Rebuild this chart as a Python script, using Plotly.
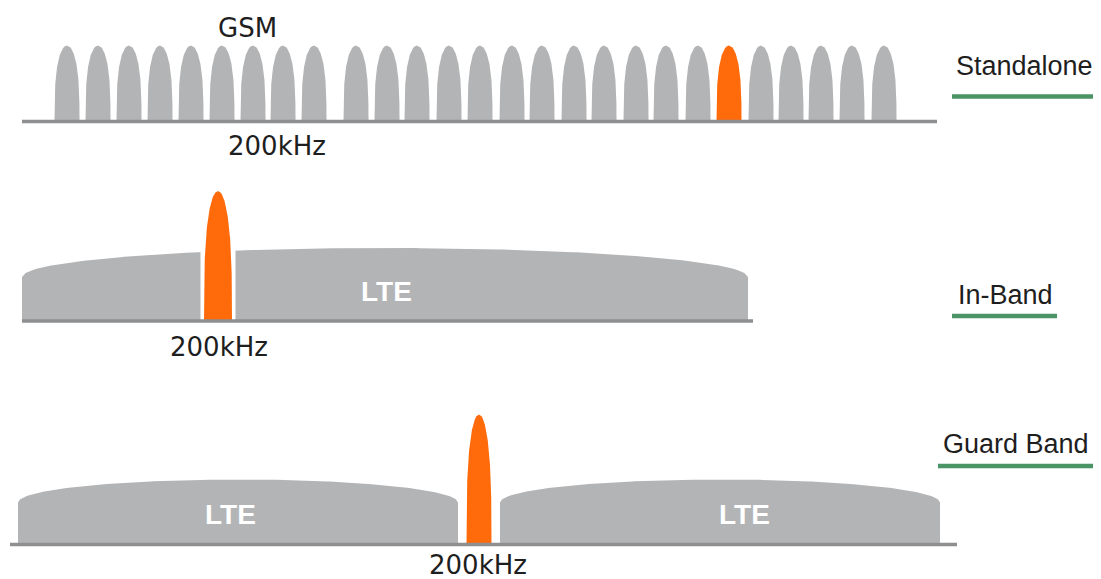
import numpy as np
import plotly.graph_objects as go

# ---------------- data (diagram frequency units / level units) ----------------
gsm_centers = [67, 98, 129, 160, 191, 222, 253, 283, 314,
               356, 387, 417, 449, 480, 512, 542, 574, 604, 636,
               666, 698, 729, 761, 791, 821, 852, 884]
gsm_nbiot_index = 21          # the GSM slot re-used by NB-IoT (orange)
gsm_halfwidth = 12.5
gsm_level = 76

row_names = ["Standalone", "In-Band", "Guard Band"]
row_baselines = [121.5, 321, 544.5]
axis_starts = [22, 22, 10]
axis_ends = [937, 753, 957]

lte_row = [1, 2, 2]
lte_starts = [22, 18, 500]
lte_ends = [748, 458, 940]
lte_edge_levels = [44, 42, 42]
lte_peak_levels = [73, 65, 65]
lte_label_x = [386, 230, 744]

nbiot_row = [1, 2]
nbiot_centers = [218, 479]
nbiot_levels = [130, 130]
nbiot_halfwidths = [14, 12.5]
nbiot_gap = [17.5, 19]

bw_label = "200kHz"
bw_label_x = [277, 219, 478]

# ---------------- styles ----------------
GRAY = "#b3b4b6"
ORANGE = "#ff6a0a"
AXIS = "#8e8f91"
GREEN = "#4a9466"
TEXT = "#1e1e1e"


def bump(c, hw, base, h, n=80):
    t = np.linspace(0, 1, n)
    w = hw * np.sqrt(np.clip(1 - t ** 3, 0, None))
    xs = np.concatenate([c - w, (c + w)[::-1]])
    ys = np.concatenate([base - h * t, (base - h * t)[::-1]])
    return xs, ys


def dome(x0, x1, base, edge, peak, n=200):
    mid = (x0 + x1) / 2
    half = (x1 - x0) / 2
    xs = np.linspace(x0, x1, n)
    u = (xs - mid) / half
    top = base - edge - (peak - edge) * np.sqrt(np.clip(1 - u ** 2, 0, None))
    X = np.concatenate([[x0], xs, [x1]])
    Y = np.concatenate([[base], top, [base]])
    return X, Y


fig = go.Figure()

def poly(xs, ys, color):
    fig.add_trace(go.Scatter(x=xs, y=ys, fill="toself", fillcolor=color,
                             mode="lines", line=dict(width=0, color=color),
                             hoverinfo="skip"))

# Row 1: GSM carriers
for i, c in enumerate(gsm_centers):
    xs, ys = bump(c, gsm_halfwidth, row_baselines[0], gsm_level)
    poly(xs, ys, ORANGE if i == gsm_nbiot_index else GRAY)

# LTE carriers
for r, a, b, e, p in zip(lte_row, lte_starts, lte_ends, lte_edge_levels, lte_peak_levels):
    xs, ys = dome(a, b, row_baselines[r], e, p)
    poly(xs, ys, GRAY)

# NB-IoT carriers with guard gap
for r, c, lv, hw, g in zip(nbiot_row, nbiot_centers, nbiot_levels, nbiot_halfwidths, nbiot_gap):
    base = row_baselines[r]
    poly([c - g, c + g, c + g, c - g], [base, base, base - 90, base - 90], "#ffffff")
    xs, ys = bump(c, hw, base, lv)
    poly(xs, ys, ORANGE)

# frequency axes
for base, a, b in zip(row_baselines, axis_starts, axis_ends):
    fig.add_trace(go.Scatter(x=[a, b], y=[base, base], mode="lines",
                             line=dict(color=AXIS, width=3.5), hoverinfo="skip"))

ann = []
ann.append(dict(x=247, y=28, text="GSM", showarrow=False,
                font=dict(family="DejaVu Sans", size=26, color=TEXT)))
label_y = [146, 347, 565]
for x, y in zip(bw_label_x, label_y):
    ann.append(dict(x=x, y=y, text=bw_label, showarrow=False,
                    font=dict(family="DejaVu Sans", size=26, color=TEXT)))
for x, r in zip(lte_label_x, lte_row):
    ann.append(dict(x=x, y=row_baselines[r] - 30, text="<b>LTE</b>", showarrow=False,
                    font=dict(family="Liberation Sans", size=28, color="#ffffff")))

name_x = [1024, 1005, 1016]
name_y = [66, 295, 444]
under_y = [96.5, 316, 466]
under_x0 = [952, 952, 938]
under_x1 = [1093, 1057, 1093]
for nm, x, y in zip(row_names, name_x, name_y):
    ann.append(dict(x=x, y=y, text=nm, showarrow=False,
                    font=dict(family="Liberation Sans", size=27, color=TEXT)))
shapes = [dict(type="line", x0=a, x1=b, y0=y, y1=y, xref="x", yref="y",
               line=dict(color=GREEN, width=4.5))
          for a, b, y in zip(under_x0, under_x1, under_y)]

fig.update_layout(
    width=1101, height=579, autosize=False,
    margin=dict(l=0, r=0, t=0, b=0),
    paper_bgcolor="#ffffff", plot_bgcolor="#ffffff",
    showlegend=False,
    xaxis=dict(range=[0, 1101], visible=False, fixedrange=True),
    yaxis=dict(range=[579, 0], visible=False, fixedrange=True),
    annotations=ann, shapes=shapes,
)

fig.write_html("out.html", config={"displayModeBar": False},
               post_script="document.body.style.margin='0';")
